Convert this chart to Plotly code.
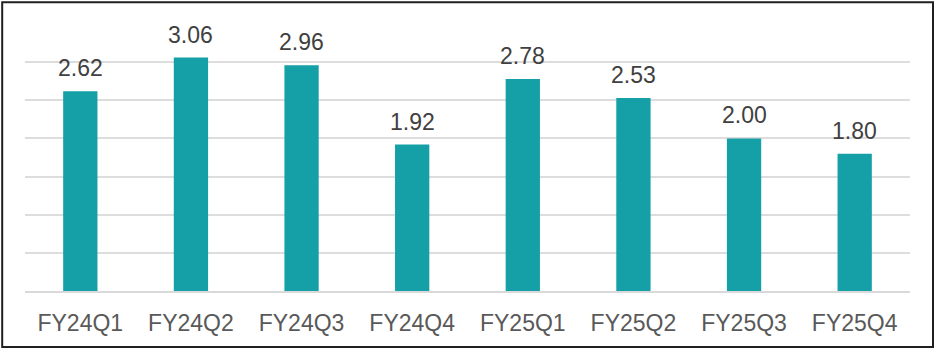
import plotly.graph_objects as go

categories = ["FY24Q1", "FY24Q2", "FY24Q3", "FY24Q4", "FY25Q1", "FY25Q2", "FY25Q3", "FY25Q4"]
values = [2.62, 3.06, 2.96, 1.92, 2.78, 2.53, 2.00, 1.80]
labels = ["2.62", "3.06", "2.96", "1.92", "2.78", "2.53", "2.00", "1.80"]

W, H = 936, 353
ML, MR, MT, MB = 25, 26, 24, 62
pw, ph = W - ML - MR, H - MT - MB

fig = go.Figure()
fig.add_trace(go.Bar(
    x=categories, y=values,
    marker=dict(color="#14A0A6", line=dict(width=0)),
    width=0.31,
    hoverinfo="skip",
))

for c, v, t in zip(categories, values, labels):
    fig.add_annotation(x=c, y=v, text=t, showarrow=False, yanchor="bottom",
                       yshift=8, font=dict(family="Arial, Liberation Sans", size=23, color="#404040"))

def px_to_paper_x(px):
    return (px - ML) / pw

def px_to_paper_y(py):
    return (H - MB - py) / ph

fig.add_shape(type="rect", xref="paper", yref="paper",
              x0=px_to_paper_x(2.2), x1=px_to_paper_x(933),
              y0=px_to_paper_y(347), y1=px_to_paper_y(2.2),
              line=dict(color="#202020", width=2), fillcolor="rgba(0,0,0,0)", layer="above")

fig.update_layout(
    width=W, height=H,
    margin=dict(l=ML, r=MR, t=MT, b=MB, pad=0),
    paper_bgcolor="white", plot_bgcolor="white",
    showlegend=False,
    font=dict(family="Arial, Liberation Sans", color="#595959"),
    xaxis=dict(showgrid=False, showline=True, linecolor="#D9D9D9", linewidth=1.5,
               ticks="", tickfont=dict(size=23, color="#595959"), ticklabelstandoff=11),
    yaxis=dict(range=[0, 3.5], dtick=0.5, showgrid=True, gridcolor="#DDDDDD", gridwidth=1.5,
               showticklabels=False, zeroline=False, fixedrange=True),
)

fig.write_html("out.html")
